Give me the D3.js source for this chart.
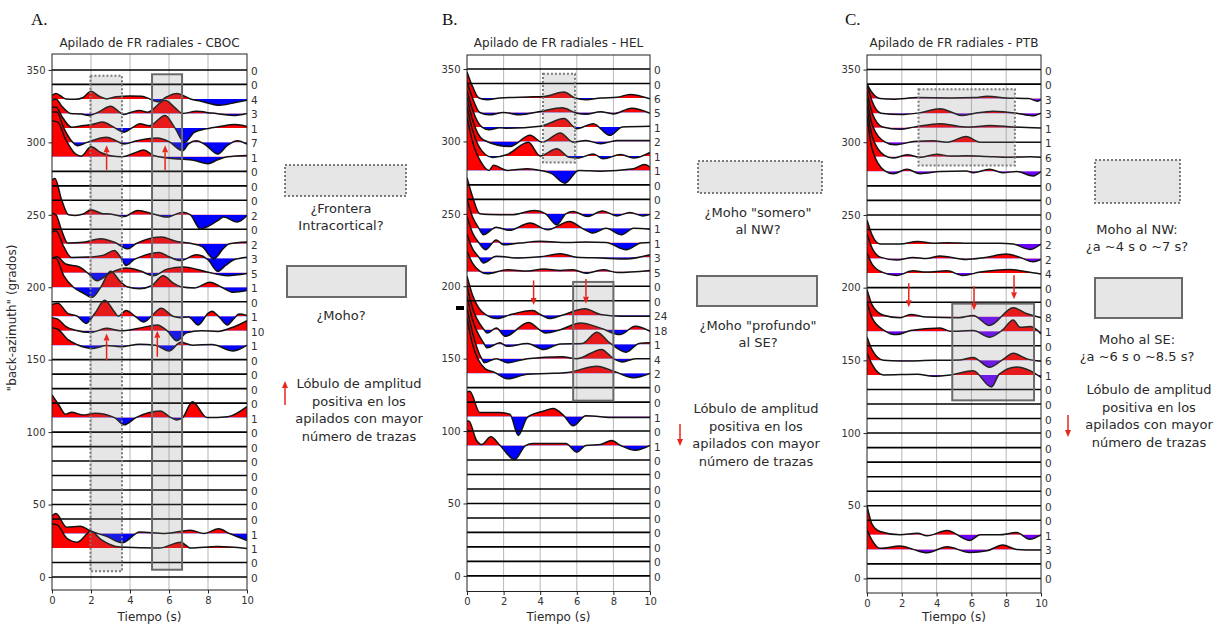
<!DOCTYPE html>
<html>
<head>
<meta charset="utf-8">
<script src="https://cdn.jsdelivr.net/npm/d3@7"></script>
<style>
  body { margin: 0; background: #fff; }
  svg text { font-family: "DejaVu Sans", sans-serif; opacity: 0.999; }
  svg text.letter { font-family: "Liberation Serif", "DejaVu Serif", serif; }
</style>
</head>
<body>
<svg id="fig" width="1218" height="625"></svg>
<script>
// back-azimuth bins, top to bottom
const bins = [350,340,330,320,310,300,290,280,270,260,250,240,230,220,210,200,190,180,170,160,150,140,130,120,110,100,90,80,70,60,50,40,30,20,10,0];
const yTicks = [0,50,100,150,200,250,300,350];
const timeTicks = [0,2,4,6,8,10];
const gridTimes = [2,4,6,8];

// number of traces per bin (same order as bins)
const countsA = [0,0,4,3,1,7,1,0,0,0,2,0,2,3,5,1,0,1,10,1,0,0,0,0,1,0,0,0,0,0,0,0,1,1,0,0];
const countsB = [0,0,6,5,1,2,1,1,0,0,2,1,1,3,5,0,0,24,18,1,4,2,0,0,1,0,1,0,0,0,0,0,0,0,0,0];
const countsC = [0,0,3,3,1,1,6,2,0,0,0,0,2,2,4,0,0,8,1,0,6,1,0,0,0,0,0,0,0,0,0,0,1,3,0,0];

// stacked traces: [time (s), amplitude in degrees above the bin]
const tracesA = [
  {baz:330, pts:[[0,2.5],[0.2,3.7],[0.45,2],[0.7,0],[1.2,-0.3],[1.6,1],[2.0,5.3],[2.4,2],[2.8,0],[3.3,1.5],[4,2],[4.6,1.8],[5.0,0],[5.4,-2],[5.9,1.5],[6.4,3.7],[7.1,0],[7.6,-1.5],[8.6,-4.4],[9.4,-2.5],[10,-1]]},
  {baz:320, pts:[[0,9],[0.2,10],[0.5,5],[0.95,0],[1.5,-0.5],[1.9,-1.4],[2.4,1],[3.0,4.9],[3.7,-0.7],[4.1,1],[4.5,2],[4.9,0.8],[5.8,9],[6.3,4],[6.7,0],[7.4,1.4],[8.2,0.2],[9.3,-1.4],[10,0]]},
  {baz:310, pts:[[0,14],[0.2,14.5],[0.5,8],[1.0,0.5],[1.6,1.6],[2.1,2.5],[2.6,4],[3.1,1],[3.7,-3],[4.1,0],[4.5,2.8],[5.0,1.5],[5.8,8.6],[6.3,0],[6.8,-10],[7.3,-3],[7.9,-0.7],[8.6,1],[9.4,2.3],[10,1]]},
  {baz:300, pts:[[0,21],[0.25,21],[0.6,10],[1.0,1],[1.3,-2.3],[1.8,0],[2.8,3.5],[3.3,1],[3.7,-1.2],[4.3,1],[5.4,3],[6.0,0.5],[6.7,-5.8],[7.0,-1],[7.4,1.2],[7.9,-2],[8.5,-8],[9.0,-2],[9.5,1.2],[10,-1.2]]},
  {baz:290, pts:[[0,25],[0.3,24],[0.7,12],[1.2,2],[1.5,0.5],[2.0,7],[2.5,3],[3.0,0.7],[3.6,0],[4.2,2.5],[4.7,4.7],[5.2,1],[5.5,0],[6.0,-1],[6.5,-1.5],[7.3,-2.5],[8.0,-4.7],[8.5,-2],[9.0,0],[10,1]]},
  {baz:250, pts:[[0,24],[0.15,25],[0.5,10],[0.85,0],[1.2,-0.5],[1.6,0.5],[2.0,3.5],[2.6,0.8],[3.0,0.5],[3.7,-1.2],[4.4,3],[5.2,0.5],[5.9,-1.6],[6.7,1.8],[7.1,0],[7.6,-9.7],[8.5,-4],[8.8,-1.6],[9.5,-5],[10,-0.5]]},
  {baz:230, pts:[[0,21],[0.2,20],[0.5,9],[0.8,0.5],[1.6,1],[2.5,3.5],[3.2,1],[3.9,-3.5],[4.3,0],[4.7,2.3],[5.6,4.6],[6.4,1.5],[7.2,0],[7.7,-2],[8.3,-10.4],[8.8,-3],[9.1,0],[10,1.2]]},
  {baz:220, pts:[[0,18],[0.2,19],[0.6,8],[1.0,0.5],[1.8,0.8],[2.6,2],[3.2,5.3],[3.5,1],[3.8,-5],[4.2,-1],[4.7,1.8],[5.5,4],[6.0,1],[6.6,-1.6],[7.4,2.5],[8.0,-1],[8.5,-9],[8.9,-5],[9.3,-1.2],[10,0.7]]},
  {baz:210, pts:[[0,10],[0.25,11],[0.7,6],[1.4,4],[1.9,-1],[2.3,-5.5],[3.0,0],[3.8,3.2],[4.5,1.4],[5.2,-2],[5.9,2.5],[6.75,4],[7.95,0.5],[9.0,-2],[10,-0.5]]},
  {baz:200, pts:[[0,20],[0.2,20],[0.6,8],[1.1,0],[1.6,-4],[2.05,-7],[2.5,0],[3.0,11],[3.5,4],[3.85,0.3],[4.5,-1],[5.1,1],[5.7,8],[6.2,3],[6.6,0.3],[7.3,-0.5],[8.1,3.5],[8.7,0],[9.3,-3.5],[10,-2.3]]},
  {baz:180, pts:[[0,8],[0.3,9],[0.8,2],[1.3,0],[1.75,-5],[2.2,2],[2.7,11],[3.2,3],[3.4,0],[3.8,4],[4.3,-0.5],[4.7,-4],[5.1,0],[5.6,5.5],[6.2,0],[6.6,-1],[7.0,-0.5],[7.5,-6],[8.0,2],[8.2,3.5],[8.6,-1],[9.0,-6],[9.3,-2],[9.6,1.5],[10,0.5]]},
  {baz:170, pts:[[0,9],[0.3,8],[0.7,3],[1.2,0.3],[2.0,-1.2],[2.8,1.6],[3.5,0],[4.4,1.5],[5.4,4],[5.9,0],[6.4,-7],[6.9,-1.5],[7.65,0],[8.5,-0.5],[9.2,2],[10,7]]},
  {baz:160, pts:[[0,12],[0.3,11],[0.8,4],[1.3,0.3],[2.1,-2.3],[2.8,-0.3],[3.5,-1],[4.5,0.7],[5.3,0],[6.0,-4],[6.6,2],[7.2,0],[8.2,0.5],[9.3,-4],[10,0]]},
  {baz:110, pts:[[0,15.6],[0.35,8.7],[0.7,2.3],[1.0,3.7],[1.6,1.8],[2.2,3],[3.2,0],[3.7,-5],[4.3,0],[5.55,4.6],[6.1,0],[6.4,-1.6],[6.7,0],[7.2,11],[7.95,0],[9.0,0.6],[10,7.6]]},
  {baz:30, pts:[[0,12],[0.2,13.8],[0.75,4.4],[1.45,5],[2.0,1.6],[2.8,-2],[3.6,-6.4],[4.5,1.1],[5.8,0],[7.1,2.3],[7.8,0],[8.55,3.2],[9.1,0],[10,-4.8]]},
  {baz:20, pts:[[0,16.5],[0.25,16],[0.75,6.9],[1.3,4],[2.0,11.5],[2.5,6],[3.5,0.7],[5.5,0],[6.6,4],[7.1,0],[8.5,1],[10,-0.3]]}
];

const tracesB = [
  {baz:330, pts:[[0,18],[0.3,8],[0.65,0],[1.1,-1.2],[1.8,0],[3.3,0.7],[4.2,1],[5.3,4.2],[5.9,0],[6.5,-1.2],[7.3,0],[8.2,0.5],[8.9,2.5],[10,-0.5]]},
  {baz:320, pts:[[0,21],[0.3,10],[0.7,0],[1.2,-1.6],[2.0,0],[2.9,-1.6],[4.0,0.7],[5.2,3.2],[6.0,-0.5],[6.5,-1.2],[7.3,0.5],[8.0,-1],[9.0,3],[10,-0.5]]},
  {baz:310, pts:[[0,25],[0.3,12],[0.8,0],[1.2,-1.9],[1.8,-0.5],[2.2,-0.8],[4.0,0.5],[5.3,5.8],[6.0,-1.2],[6.9,2.3],[7.8,-5.8],[8.5,0],[10,0.5]]},
  {baz:300, pts:[[0,30],[0.3,15],[0.9,1],[2.35,-3.5],[3.45,4.2],[4.1,-0.5],[5.1,5.8],[5.8,-0.5],[6.5,0.7],[7.3,-1.6],[8.2,0.7],[10,0.7]]},
  {baz:290, pts:[[0,34],[0.3,18],[1.0,1],[1.4,-1],[2.2,1],[3.35,9.5],[4.0,0],[4.9,4.9],[5.6,-1],[6.1,-1.4],[6.9,1.4],[7.45,-2],[8.4,1],[9.1,-1.4],[10,2.5]]},
  {baz:280, pts:[[0,37],[0.3,20],[0.8,5],[1.2,0],[1.45,3.5],[2.2,0],[3.3,1.2],[4.0,0],[4.6,-2],[5.35,-8.8],[6.1,0],[7.3,-0.5],[9.1,1.2],[9.7,4],[10,2.3]]},
  {baz:250, pts:[[0,25],[0.3,12],[0.7,0],[1.2,-0.5],[2.4,-0.7],[3.7,2.3],[4.3,0],[4.9,-7.6],[5.4,0],[5.8,1.6],[6.6,-1.8],[7.4,2],[8.2,-1.4],[8.9,1],[9.6,-1.4],[10,-0.5]]},
  {baz:240, pts:[[0,20],[0.3,8],[0.65,0],[0.9,-4.4],[1.6,0.8],[2.3,-1.4],[3.45,3.6],[4.4,-1],[5.6,4.7],[6.3,0],[6.9,-3.3],[7.6,0],[8.45,-4.4],[9.1,0],[10,-0.6]]},
  {baz:230, pts:[[0,18],[0.3,7],[0.65,0],[1.0,-4.8],[1.6,2],[2.0,-1.4],[2.9,-0.2],[4.0,1],[5.5,0.2],[6.5,0.5],[7.6,0.2],[8.7,-4.8],[9.5,-0.2],[10,0.2]]},
  {baz:220, pts:[[0,16],[0.3,6],[0.65,0],[0.9,-3.9],[1.6,0.7],[2.9,-0.5],[4.0,0.3],[5.1,2.5],[6.0,0],[7.3,-0.5],[8.7,-1.1],[10,1.8]]},
  {baz:210, pts:[[0,14],[0.3,6],[0.7,0.5],[1.1,-1.4],[2.2,1.4],[3.3,0.5],[4.2,2],[5.1,0.9],[5.8,1.4],[6.5,-1],[7.45,1.4],[8.2,-0.5],[10,0.9]]},
  {baz:180, pts:[[0,27],[0.3,14],[1.0,0.5],[1.65,-2.3],[2.4,0.5],[3.6,3.2],[4.0,0.5],[4.5,-2.3],[5.2,0],[6.45,4.4],[7.3,0.5],[8.4,-0.7],[10,-0.7]]},
  {baz:170, pts:[[0,30],[0.3,15],[0.9,0.5],[1.1,-2.3],[1.6,1.1],[2.1,-4.6],[3.35,5],[4.3,-2.3],[5.1,0],[6.2,4.6],[7.3,1.1],[8.35,-3.4],[9.2,2.3],[10,-1.1]]},
  {baz:160, pts:[[0,33],[0.3,17],[0.9,1],[1.1,-2.5],[1.8,1],[2.2,-1.5],[3.3,0.5],[4.2,-3.7],[5.1,0.2],[6.3,0.5],[7.1,8.3],[7.8,0.9],[8.7,-5.5],[9.4,0.5],[10,0.9]]},
  {baz:150, pts:[[0,35],[0.3,18],[0.8,0],[0.95,-2.8],[1.6,0],[2.2,-2.8],[3.3,0],[5.2,1.4],[6.0,0],[7.35,6.4],[8.0,0],[8.5,-2.3],[9.2,0],[10,0]]},
  {baz:140, pts:[[0,38],[0.3,20],[1.0,3],[1.5,0.5],[2.2,-3.9],[3.3,-0.7],[4.4,-0.2],[5.5,0.5],[7.1,4.8],[8.0,1.4],[9.1,-3.2],[10,-0.2]]},
  {baz:110, pts:[[0,17],[0.15,17.5],[0.7,2.8],[1.8,2.8],[2.35,1.5],[2.8,-13],[3.3,-0.5],[4.2,3.9],[4.7,5.5],[5.3,0.5],[5.8,-6.4],[6.5,0.5],[8.1,-0.7],[10,-0.7]]},
  {baz:90, pts:[[0,17],[0.1,17],[0.5,4],[0.8,0.7],[1.3,6],[1.8,0.2],[2.6,-9.8],[3.2,0],[3.6,1.4],[5.4,1.4],[6.0,-4.6],[6.5,0],[7.3,0.7],[7.9,3.5],[8.4,0],[9.2,-3.3],[10,0]]}
];

const tracesC = [
  {baz:330, pts:[[0,10],[0.3,4],[0.75,0],[1.5,-0.4],[2.9,0.7],[4.8,0.5],[6.2,0.7],[6.9,1.6],[8.0,0.5],[9.3,0],[9.8,-1.8],[10,-0.7]]},
  {baz:320, pts:[[0,20],[0.3,8],[0.8,0],[1.9,-1],[3.0,0.2],[4.2,3],[4.9,0.5],[5.45,-1.6],[6.2,0],[7.25,1.4],[8.6,0],[9.5,-1.8],[10,0]]},
  {baz:310, pts:[[0,25],[0.3,10],[0.9,0.5],[1.9,-1.1],[2.7,0.4],[4.2,2.8],[5.3,0.9],[6.0,0.5],[7.05,1.6],[8.4,0.5],[10,-0.2]]},
  {baz:300, pts:[[0,30],[0.3,12],[1.0,0.5],[1.6,-1.8],[2.7,0.5],[3.8,1.1],[4.6,0],[5.7,3.9],[6.5,0],[8.1,0],[10,0]]},
  {baz:290, pts:[[0,35],[0.3,14],[1.0,1],[1.5,-0.9],[2.3,1.4],[3.05,-0.4],[4.0,1.8],[4.8,0.5],[5.7,0.7],[6.9,0.2],[8.1,-0.4],[9.4,0],[10,-0.4]]},
  {baz:280, pts:[[0,38],[0.3,15],[1.0,0.5],[1.5,-1.6],[2.3,1.4],[3.05,-1.6],[4.2,-0.2],[5.7,0.2],[6.1,-0.9],[7.05,1.4],[7.8,-0.9],[8.6,-0.2],[9.55,-3.2],[10,-0.2]]},
  {baz:230, pts:[[0,16.6],[0.3,6],[0.75,0],[1.9,0],[2.9,1.8],[3.8,0.5],[4.6,0.9],[6.1,0.5],[7.6,0.5],[8.4,0],[9.35,-3.7],[10,0]]},
  {baz:220, pts:[[0,17],[0.3,7],[0.8,0.8],[1.7,-1],[2.65,0.8],[3.4,0],[4.2,1.8],[5.7,-0.6],[6.8,0.8],[8.0,3.1],[8.8,0.8],[9.55,-2.2],[10,-0.6]]},
  {baz:210, pts:[[0,14],[0.3,6],[0.9,0.5],[1.7,-1.6],[2.65,1.6],[3.4,0.7],[4.6,1.6],[5.5,-1.6],[6.5,0.7],[8.2,2.5],[9.2,0.9],[10,-0.7]]},
  {baz:180, pts:[[0,18.7],[0.3,8],[0.95,1],[1.9,-0.7],[2.5,1.6],[3.4,-0.2],[5.3,-0.7],[6.1,0.9],[7.05,-6],[8.4,6.2],[9.2,2],[10,-0.7]]},
  {baz:170, pts:[[0,20],[0.3,9],[1.0,0.5],[1.7,-2.3],[2.5,0.5],[4.2,2.3],[4.8,0],[6.1,0.5],[7.05,-4.1],[7.8,1],[8.4,7.8],[8.8,2.8],[9.4,3.2],[10,-1.8]]},
  {baz:150, pts:[[0,16],[0.3,7],[0.95,0],[1.9,-0.5],[3.8,0],[5.3,0.2],[6.1,2],[7.05,-4.8],[7.8,0.5],[8.4,4.8],[9.2,1],[10,-0.7]]},
  {baz:140, pts:[[0,15],[0.3,7],[0.95,0],[2.9,0.5],[3.8,-0.9],[4.8,0],[6.1,2.8],[7.15,-8.3],[7.6,0.5],[8.6,5.5],[9.4,2.8],[10,-1.8]]},
  {baz:30, pts:[[0,20],[0.3,7],[0.75,2.3],[1.9,0],[2.9,1.1],[3.45,-0.7],[4.6,3],[5.9,-3.9],[6.5,0],[7.6,0],[8.6,1.6],[9.35,-3],[10,0]]},
  {baz:20, pts:[[0,13.4],[0.3,6],[0.75,0.7],[1.9,2.3],[2.65,0],[3.45,-2.3],[4.6,1.8],[5.9,-2.1],[6.9,-1],[7.8,3],[8.6,0],[10,-0.5]]}
];

// shaded boxes in data units: [t0, t1, baz0, baz1, dotted]
const boxesA = [[1.97,3.59,4,346,true],[5.13,6.67,5,347,false]];
const boxesB = [[4.15,5.9,285.5,346.7,true],[5.8,8.0,121,203,false]];
const boxesC = [[2.96,8.5,284,336.5,true],[4.9,9.6,122.5,189,false]];

// red arrows: [t, tail baz, head baz]
const arrowsA = [[2.8,281,298],[5.8,281,298],[2.8,149.5,168],[5.4,152,170]];
const arrowsB = [[3.64,204,187],[6.5,205,188]];
const arrowsC = [[2.4,203,186.5],[6.15,201,184.5],[8.45,208.5,192]];

const panels = [
  {key:"A", letter:"A.", lx:31, title:"Apilado de FR radiales - CBOC", left:52, right:247, top:54, bottom:590, ydom:[-9,361],
   counts:countsA, traces:tracesA, boxes:boxesA, arrows:arrowsA, neg:"#0000ff"},
  {key:"B", letter:"B.", lx:442, title:"Apilado de FR radiales - HEL", left:467, right:650, top:55, bottom:591.5, ydom:[-10.8,359.7],
   counts:countsB, traces:tracesB, boxes:boxesB, arrows:arrowsB, neg:"#0000ff"},
  {key:"C", letter:"C.", lx:845, title:"Apilado de FR radiales - PTB", left:867, right:1041, top:55, bottom:593, ydom:[-10,360],
   counts:countsC, traces:tracesC, boxes:boxesC, arrows:arrowsC, neg:"#6a00ff"}
];

const legends = [
  {dotted:[285,165,121,31], solid:[287,266,119,31], cx:341,
   text1:["¿Frontera","Intracortical?"], y1:213, text2:["¿Moho?"], y2:320,
   arrow:[285,405,285,381], ncx:359, ny:388},
  {dotted:[698,161,124,32], solid:[697,276,120,30], cx:758,
   text1:["¿Moho \"somero\"","al NW?"], y1:217, text2:["¿Moho \"profundo\"","al SE?"], y2:330,
   arrow:[680,424,680,446], ncx:756, ny:413},
  {dotted:[1095,160,85,43], solid:[1095,278,87,40], cx:1137,
   text1:["Moho al NW:","¿a ~4 s o ~7 s?"], y1:234, text2:["Moho al SE:","¿a ~6 s o ~8.5 s?"], y2:344,
   arrow:[1068,415,1068,437], ncx:1149, ny:394}
];
const noteLines = ["Lóbulo de amplitud","positiva en los","apilados con mayor","número de trazas"];

const svg = d3.select("#fig");
const defs = svg.append("defs");
const arrowColor = "#e8261c";
const textColor = "#2a2a2a";

function arrow(g, x0, y0, x1, y1) {
  const ang = Math.atan2(y1 - y0, x1 - x0);
  const hl = 7, hw = 3;
  const bx = x1 - hl * Math.cos(ang), by = y1 - hl * Math.sin(ang);
  g.append("line").attr("x1", x0).attr("y1", y0).attr("x2", bx).attr("y2", by)
    .attr("stroke", arrowColor).attr("stroke-width", 1.5);
  g.append("path")
    .attr("d", `M${x1},${y1}L${bx - hw * Math.sin(ang)},${by + hw * Math.cos(ang)}L${bx + hw * Math.sin(ang)},${by - hw * Math.cos(ang)}Z`)
    .attr("fill", arrowColor);
}

function drawPanel(p) {
  const x = d3.scaleLinear().domain([0, 10]).range([p.left, p.right]);
  const y = d3.scaleLinear().domain(p.ydom).range([p.bottom, p.top]);
  const w = p.right - p.left;
  const g = svg.append("g");

  defs.append("clipPath").attr("id", "ax" + p.key).append("rect")
    .attr("x", p.left).attr("y", p.top).attr("width", w).attr("height", p.bottom - p.top);
  const plot = g.append("g").attr("clip-path", `url(#ax${p.key})`);

  plot.selectAll("line.grid").data(gridTimes).join("line")
    .attr("x1", d => x(d)).attr("x2", d => x(d))
    .attr("y1", p.top).attr("y2", p.bottom)
    .attr("stroke", "#b8b8b8").attr("stroke-width", 1);

  const area = base => d3.area().x(d => x(d[0])).y0(y(base)).y1(d => y(base + d[1])).curve(d3.curveMonotoneX);
  const line = base => d3.line().x(d => x(d[0])).y(d => y(base + d[1])).curve(d3.curveMonotoneX);

  // fills: red above the bin line, blue below
  p.traces.forEach(tr => {
    const yb = y(tr.baz);
    const up = `${p.key}u${tr.baz}`, dn = `${p.key}d${tr.baz}`;
    defs.append("clipPath").attr("id", up).append("rect")
      .attr("x", p.left).attr("y", p.top).attr("width", w).attr("height", yb - p.top);
    defs.append("clipPath").attr("id", dn).append("rect")
      .attr("x", p.left).attr("y", yb).attr("width", w).attr("height", p.bottom - yb);
    plot.append("path").attr("d", area(tr.baz)(tr.pts)).attr("fill", "#ff0000").attr("clip-path", `url(#${up})`);
    plot.append("path").attr("d", area(tr.baz)(tr.pts)).attr("fill", p.neg).attr("clip-path", `url(#${dn})`);
  });

  // empty bins: flat line
  const empty = bins.filter((b, i) => p.counts[i] === 0);
  plot.selectAll("line.zero").data(empty).join("line")
    .attr("x1", p.left).attr("x2", p.right)
    .attr("y1", d => y(d)).attr("y2", d => y(d))
    .attr("stroke", "#000").attr("stroke-width", 1.6);

  p.traces.forEach(tr => {
    plot.append("path").attr("d", line(tr.baz)(tr.pts))
      .attr("fill", "none").attr("stroke", "#111").attr("stroke-width", 1.5);
  });

  // shaded boxes
  p.boxes.forEach(b => {
    plot.append("rect")
      .attr("x", x(b[0])).attr("y", y(b[3]))
      .attr("width", x(b[1]) - x(b[0])).attr("height", y(b[2]) - y(b[3]))
      .attr("fill", "#808080").attr("fill-opacity", 0.2)
      .attr("stroke", b[4] ? "#7a7a7a" : "#6a6a6a").attr("stroke-width", 2)
      .attr("stroke-dasharray", b[4] ? "2,2" : null);
  });

  p.arrows.forEach(a => arrow(plot, x(a[0]), y(a[1]), x(a[0]), y(a[2])));

  // frame
  g.append("rect").attr("x", p.left).attr("y", p.top).attr("width", w).attr("height", p.bottom - p.top)
    .attr("fill", "none").attr("stroke", "#222").attr("stroke-width", 1);

  // axes
  const ya = g.append("g").attr("transform", `translate(${p.left},0)`)
    .call(d3.axisLeft(y).tickValues(yTicks).tickSize(3.5).tickPadding(3));
  const xa = g.append("g").attr("transform", `translate(0,${p.bottom})`)
    .call(d3.axisBottom(x).tickValues(timeTicks).tickSize(3.5).tickPadding(3));
  [ya, xa].forEach(a => {
    a.select(".domain").remove();
    a.selectAll("line").attr("stroke", "#222");
    a.selectAll("text").attr("font-size", 10).style("fill", "#333");
  });

  // counts on the right
  g.append("g").selectAll("text").data(bins).join("text")
    .attr("x", Math.round(p.right + 4)).attr("y", d => Math.round(y(d) + 5))
    .attr("font-size", 10.5).style("fill", "#333")
    .text((d, i) => String(p.counts[i]));

  g.append("text").attr("x", (p.left + p.right) / 2).attr("y", 47)
    .attr("text-anchor", "middle").attr("font-size", 12).style("fill", textColor).text(p.title);
  g.append("text").attr("x", (p.left + p.right) / 2).attr("y", 621)
    .attr("text-anchor", "middle").attr("font-size", 12).style("fill", textColor).text("Tiempo (s)");
  g.append("text").attr("class", "letter").attr("x", p.lx).attr("y", 25)
    .attr("font-size", 17).style("fill", "#111")
    .text(p.letter);
}

panels.forEach(drawPanel);

svg.append("text").attr("transform", "translate(16,318) rotate(-90)")
  .attr("text-anchor", "middle").attr("font-size", 12).style("fill", textColor)
  .text("\"back-azimuth\" (grados)");

// small black mark left of panel B
svg.append("rect").attr("x", 456).attr("y", 306).attr("width", 8).attr("height", 4).attr("fill", "#000");

// legends
legends.forEach(L => {
  const g = svg.append("g");
  g.append("rect").attr("x", L.dotted[0]).attr("y", L.dotted[1]).attr("width", L.dotted[2]).attr("height", L.dotted[3])
    .attr("fill", "#e6e6e6").attr("stroke", "#7a7a7a").attr("stroke-width", 2).attr("stroke-dasharray", "2,2");
  g.append("rect").attr("x", L.solid[0]).attr("y", L.solid[1]).attr("width", L.solid[2]).attr("height", L.solid[3])
    .attr("fill", "#e6e6e6").attr("stroke", "#6a6a6a").attr("stroke-width", 2);
  L.text1.forEach((t, i) => g.append("text").attr("x", L.cx).attr("y", L.y1 + i * 17)
    .attr("text-anchor", "middle").attr("font-size", 13).style("fill", textColor).text(t));
  L.text2.forEach((t, i) => g.append("text").attr("x", L.cx).attr("y", L.y2 + i * 17)
    .attr("text-anchor", "middle").attr("font-size", 13).style("fill", textColor).text(t));
  noteLines.forEach((t, i) => g.append("text").attr("x", L.ncx).attr("y", L.ny + i * 17.5)
    .attr("text-anchor", "middle").attr("font-size", 13).style("fill", textColor).text(t));
  arrow(g, L.arrow[0], L.arrow[1], L.arrow[2], L.arrow[3]);
});
</script>
</body>
</html>
